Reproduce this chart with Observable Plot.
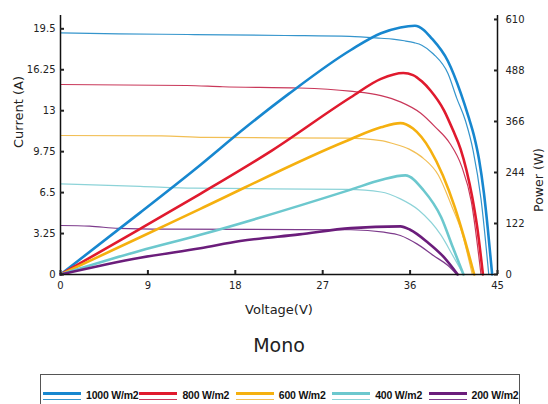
<!DOCTYPE html>
<html>
<head>
<meta charset="utf-8">
<script src="https://cdn.jsdelivr.net/npm/d3@7"></script>
<script src="https://cdn.jsdelivr.net/npm/@observablehq/plot@0.6"></script>
<style>
  html, body { margin: 0; padding: 0; background: #fff; }
  #wrap { position: relative; width: 548px; height: 404px; overflow: hidden; }
  #legend { position: absolute; left: 40px; top: 374px; width: 480px; height: 40px;
            border: 1px solid #555; box-sizing: border-box; }
  .item { position: absolute; top: 0; height: 30px; }
  .sw1 { position: absolute; left: 0; top: 17px; width: 38px; height: 3px; }
  .sw2 { position: absolute; left: 0; top: 24px; width: 38px; height: 1.3px; }
  .lt { position: absolute; left: 43px; top: 14px; font: bold 10.5px "Liberation Sans", Arial, sans-serif;
        white-space: nowrap; color: #111; letter-spacing: -0.2px; }
</style>
</head>
<body>
<div id="wrap"></div>
<script>
// ---- data ----
const irradiance = ["1000 W/m2", "800 W/m2", "600 W/m2", "400 W/m2", "200 W/m2"];
const voltageTicks = [0, 9, 18, 27, 36, 45];
const currentTicks = [0, 3.25, 6.5, 9.75, 13, 16.25, 19.5];
const powerTicks = [0, 122, 244, 366, 488, 610];

// current (A) vs voltage (V)
const iv1000 = [[0,19.18],[6,19.1],[13.1,19.05],[23.1,18.97],[29.8,18.9],[33.0,18.75],[34.2,18.68],[35.4,18.55],[36.4,18.4],[37.2,18.2],[38.4,17.5],[39.9,15.95],[40.8,14.0],[41.7,12.2],[42.5,9.8],[43.3,6.0],[44.1,0]];
const iv800  = [[0,15.08],[13.0,15.0],[16.7,14.9],[24.6,14.8],[29.8,14.55],[33.0,14.2],[35.0,13.7],[37.1,12.8],[38.6,11.7],[40.1,10.4],[41.3,8.6],[42.3,5.8],[43.3,0]];
const iv600  = [[0,11.03],[10.4,11.0],[14.8,10.88],[29.5,10.82],[33.0,10.63],[34.2,10.4],[35.9,9.95],[37.4,9.2],[38.9,7.9],[40.3,5.4],[41.3,3.4],[42.4,0]];
const iv400  = [[0,7.2],[8.2,7.0],[13.7,6.85],[29.5,6.75],[33.0,6.55],[35.0,6.0],[36.9,5.1],[39.2,3.1],[40.4,1.5],[41.5,0]];
const iv200  = [[0,3.89],[3,3.84],[6,3.66],[10.9,3.6],[29.9,3.55],[33.3,3.36],[35.0,3.1],[36.7,2.43],[38.4,1.5],[39.9,0.71],[40.8,0]];

// power (W) vs voltage (V)
const pv1000 = [[0,0],[8.2,148],[14.4,262],[18.7,345],[23.5,432],[29.9,537],[33.0,577],[35.0,591],[36.5,595],[37.4,585],[38.1,568],[39.9,510],[41.2,435],[42.0,378],[42.6,330],[43.1,275],[43.6,195],[44.0,110],[44.45,0]];
const pv800  = [[0,0],[8.2,109],[14.4,193],[21.8,297],[29.9,424],[33.0,468],[35.3,482],[36.3,477],[37.2,462],[38.1,440],[39.5,392],[40.4,346],[41.2,300],[41.8,250],[42.4,185],[42.9,115],[43.5,0]];
const pv600  = [[0,0],[8.2,89],[14.4,157],[29.5,320],[33.0,352],[35.0,362],[36.3,349],[38.1,297],[40.6,161],[41.6,85],[42.6,0]];
const pv400  = [[0,0],[8.2,57],[14.4,95],[29.9,203],[33.0,226],[35.5,237],[37.4,201],[39.2,137],[40.4,65],[41.5,0]];
const pv200  = [[0,0],[8.2,40],[14.4,63],[18.5,80],[24.6,96],[29.9,111],[35.0,115],[36.0,107],[37.8,77],[39.5,41],[40.9,0]];

const ivSeries = [iv1000, iv800, iv600, iv400, iv200];
const pvSeries = [pv1000, pv800, pv600, pv400, pv200];

// ---- styles ----
const thickColors = ["#1787cf", "#e01a2e", "#f5b00f", "#6cc8ce", "#6b1d7b"];
const thinColors  = ["#3595cc", "#c9385a", "#f2bf55", "#8dd3d8", "#7d3b8c"];

const yTop = 20.556;          // current axis top (A)
const K = yTop / 619.5;       // power (W) -> current-scale units

const marks = [];
ivSeries.forEach((s, i) => {
  marks.push(Plot.line(s, {x: d => d[0], y: d => d[1], stroke: thinColors[i], strokeWidth: 1.2, curve: "monotone-x"}));
});
pvSeries.forEach((s, i) => {
  marks.push(Plot.line(s, {x: d => d[0], y: d => d[1] * K, stroke: thickColors[i], strokeWidth: 2.6, curve: "monotone-x"}));
});

const chart = Plot.plot({
  width: 548,
  height: 370,
  marginLeft: 60,
  marginRight: 51,
  marginTop: 15,
  marginBottom: 96,
  style: {fontFamily: "DejaVu Sans", background: "#fff", color: "#222"},
  x: {domain: [0, 45]},
  y: {domain: [0, yTop]},
  marks: [
    ...marks,
    Plot.ruleY([0], {stroke: "#111", strokeWidth: 1.5}),
    Plot.ruleX([0], {stroke: "#111", strokeWidth: 1.5}),
    Plot.ruleX([45], {stroke: "#111", strokeWidth: 1.5}),
    Plot.axisX(voltageTicks, {anchor: "bottom", tickSize: -4, strokeWidth: 2, tickPadding: 11, fontSize: 10, tickFormat: d => String(d), label: null}),
    Plot.axisY(currentTicks, {anchor: "left", tickSize: -4, strokeWidth: 2, tickPadding: 9, fontSize: 10, tickFormat: d => String(d), label: null}),
    Plot.axisY(powerTicks.map(p => p * K), {anchor: "right", tickSize: -4, strokeWidth: 2, tickPadding: 12, fontSize: 10, tickFormat: d => String(Math.round(d / K)), label: null}),
    Plot.text(["Voltage(V)"], {frameAnchor: "bottom", dy: 39, fontSize: 13, fill: "#222", style: "letter-spacing:0.6px"}),
    Plot.text(["Mono"], {frameAnchor: "bottom", dy: 77, fontSize: 19, fill: "#222"}),
    Plot.text(["Current (A)"], {frameAnchor: "left", dx: -42, dy: 3, rotate: -90, fontSize: 13, fill: "#222", style: "letter-spacing:0.4px"}),
    Plot.text(["Power (W)"], {frameAnchor: "right", dx: 41, dy: 3, rotate: -90, fontSize: 12.5, fill: "#222", style: "letter-spacing:0.6px"})
  ]
});

const wrap = document.getElementById("wrap");
wrap.appendChild(chart);

const legend = document.createElement("div");
legend.id = "legend";
irradiance.forEach((name, i) => {
  const it = document.createElement("div");
  it.className = "item";
  it.style.left = (2 + i * 96.4) + "px";
  const a = document.createElement("div"); a.className = "sw1"; a.style.background = thickColors[i];
  const b = document.createElement("div"); b.className = "sw2"; b.style.background = thinColors[i];
  const t = document.createElement("div"); t.className = "lt"; t.textContent = name;
  it.append(a, b, t);
  legend.appendChild(it);
});
wrap.appendChild(legend);
</script>
</body>
</html>
